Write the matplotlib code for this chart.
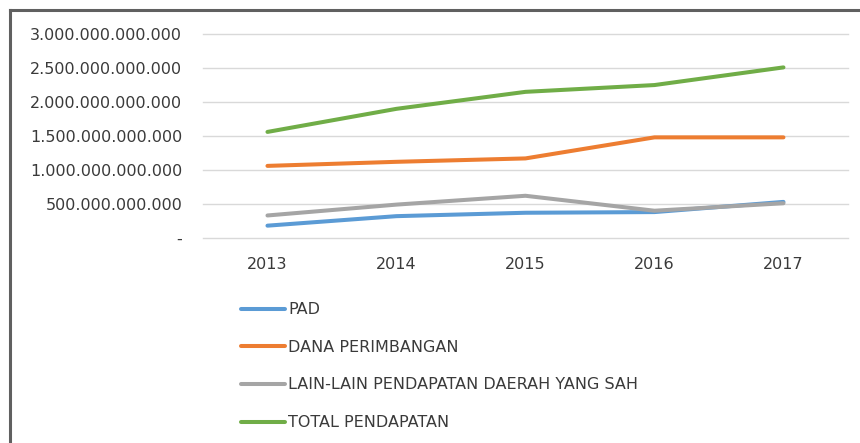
import matplotlib.pyplot as plt
from matplotlib.lines import Line2D

# data (rupiah)
tahun = ['2013', '2014', '2015', '2016', '2017']
pad = [0.18e12, 0.32e12, 0.37e12, 0.38e12, 0.53e12]
dana_perimbangan = [1.06e12, 1.12e12, 1.17e12, 1.48e12, 1.48e12]
lain_lain = [0.33e12, 0.49e12, 0.62e12, 0.40e12, 0.51e12]
total = [1.56e12, 1.90e12, 2.15e12, 2.25e12, 2.51e12]

series = ['PAD', 'DANA PERIMBANGAN', 'LAIN-LAIN PENDAPATAN DAERAH YANG SAH', 'TOTAL PENDAPATAN']
warna = ['#5B9BD5', '#ED7D31', '#A5A5A5', '#70AD47']

y_ticks = [0, 0.5e12, 1e12, 1.5e12, 2e12, 2.5e12, 3e12]
y_labels = ['-', '500.000.000.000', '1.000.000.000.000', '1.500.000.000.000',
            '2.000.000.000.000', '2.500.000.000.000', '3.000.000.000.000']

txt = '#3a3a3a'
fs = 11.5

fig = plt.figure(figsize=(8.6, 4.43), dpi=100)
ax = fig.add_axes([0.236, 0.463, 0.75, 0.46])

x = range(len(tahun))
for vals, lbl, c in zip([pad, dana_perimbangan, lain_lain, total], series, warna):
    ax.plot(x, vals, color=c, lw=2.9, label=lbl, solid_capstyle='round')

ax.set_xlim(-0.5, 4.5)
ax.set_ylim(0, 3e12)
ax.set_yticks(y_ticks)
ax.set_yticklabels(y_labels)
ax.set_xticks(list(x))
ax.set_xticklabels(tahun)
ax.tick_params(axis='y', length=0, pad=15, labelsize=fs, labelcolor=txt)
ax.tick_params(axis='x', length=0, pad=14, labelsize=fs, labelcolor=txt)
ax.grid(axis='y', color='#D9D9D9', lw=1.0, clip_on=False)
ax.set_axisbelow(True)
for s in ax.spines.values():
    s.set_visible(False)

fig.legend(loc='upper left', bbox_to_anchor=(0.28, 0.318), frameon=False,
           fontsize=fs, labelcolor=txt, handlelength=2.75, handletextpad=0.2,
           labelspacing=1.42, borderaxespad=0, borderpad=0)

# border of the chart (cut off at right and bottom)
fig.add_artist(Line2D([0.0115, 0.0115], [0, 0.977], color='#606060', lw=2.2))
fig.add_artist(Line2D([0.0115, 1], [0.977, 0.977], color='#606060', lw=2.2))

fig.savefig('out.png', dpi=100)
